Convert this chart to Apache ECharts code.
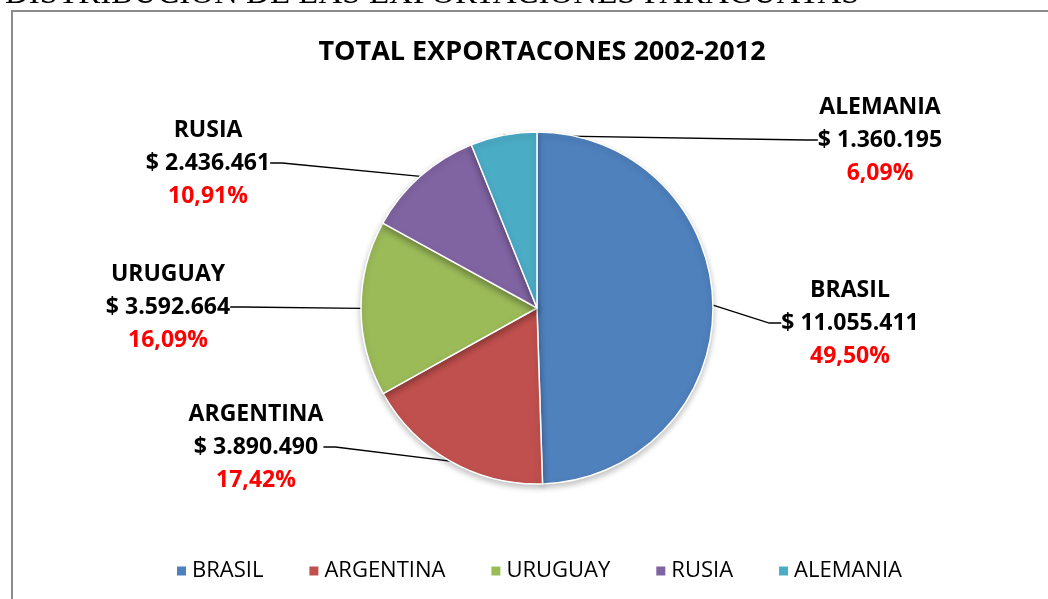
<!DOCTYPE html>
<html>
<head>
<meta charset="utf-8">
<script src="https://cdn.jsdelivr.net/npm/echarts@6/dist/echarts.min.js"></script>
<style>
  html, body { margin: 0; padding: 0; background: #fff; }
  #chart { width: 1048px; height: 599px; }
</style>
</head>
<body>
<div id="chart"></div>
<script>
// datos
var paises = ['BRASIL', 'ARGENTINA', 'URUGUAY', 'RUSIA', 'ALEMANIA'];
var montos = [11055411, 3890490, 3592664, 2436461, 1360195];
var colores = ['#4F81BD', '#C0504D', '#9BBB59', '#8064A2', '#4BACC6'];

(function () {
  var myChart = echarts.init(document.getElementById('chart'));

  // posicion de cada etiqueta (centro del bloque de texto)
  var posEtiquetas = [[850, 323], [256, 447], [168, 307], [208, 163], [880, 140]];

  var total = montos.reduce(function (a, b) { return a + b; }, 0);

  function miles(v) {
    return String(v).replace(/\B(?=(\d{3})+(?!\d))/g, '.');
  }

  var font = '"Open Sans", "Noto Sans", sans-serif';

  var option = {
    animation: false,
    title: {
      text: 'TOTAL EXPORTACONES 2002-2012',
      left: 537,
      textAlign: 'center',
      top: 34,
      textStyle: { fontFamily: font, fontSize: 27, fontWeight: 'bold', color: '#000' }
    },
    graphic: [
      {
        type: 'rect',
        shape: { x: 12, y: 11, width: 1100, height: 700 },
        style: { fill: 'none', stroke: '#8c8c8c', lineWidth: 2 },
        z: -1
      },
      {
        type: 'text',
        left: 5,
        top: -22,
        style: {
          text: 'DISTRIBUCION DE LAS EXPORTACIONES PARAGUAYAS',
          fontFamily: '"Liberation Serif", "DejaVu Serif", serif',
          fontSize: 33,
          fill: '#000'
        }
      }
    ],
    legend: {
      left: 170,
      top: 555,
      itemWidth: 11,
      itemHeight: 11,
      itemGap: 44,
      icon: 'rect',
      textStyle: { fontFamily: font, fontSize: 22, color: '#000', padding: [0, 0, 0, 0] },
      data: paises
    },
    color: colores,
    series: [
      {
        name: 'Exportaciones',
        type: 'pie',
        center: [537, 308],
        radius: 176,
        startAngle: 90,
        clockwise: true,
        itemStyle: {
          borderColor: '#fff',
          borderWidth: 1.5,
          shadowColor: 'rgba(0,0,0,0.25)',
          shadowBlur: 6,
          shadowOffsetY: 3
        },
        label: {
          show: true,
          position: 'outside',
          formatter: function (p) {
            var pct = (p.value / total * 100).toFixed(2).replace('.', ',');
            return '{n|' + p.name + '}\n{v|$ ' + miles(p.value) + '}\n{p|' + pct + '%}';
          },
          rich: {
            n: { fontFamily: font, fontSize: 23, fontWeight: 'bold', color: '#000', lineHeight: 33, align: 'center' },
            v: { fontFamily: font, fontSize: 23, fontWeight: 'bold', color: '#000', lineHeight: 33, align: 'center' },
            p: { fontFamily: font, fontSize: 23, fontWeight: 'bold', color: '#ff0000', lineHeight: 33, align: 'center' }
          }
        },
        labelLine: {
          show: true,
          length: 20,
          length2: 12,
          smooth: false,
          lineStyle: { color: '#000', width: 1.3 }
        },
        labelLayout: function (params) {
          var p = posEtiquetas[params.dataIndex];
          return { x: p[0], y: p[1], align: 'center', verticalAlign: 'middle' };
        },
        data: paises.map(function (n, i) {
          return { name: n, value: montos[i] };
        })
      }
    ]
  };

  myChart.setOption(option);
  window.addEventListener('resize', function () {
    myChart.resize();
  });
})();
</script>
</body>
</html>
